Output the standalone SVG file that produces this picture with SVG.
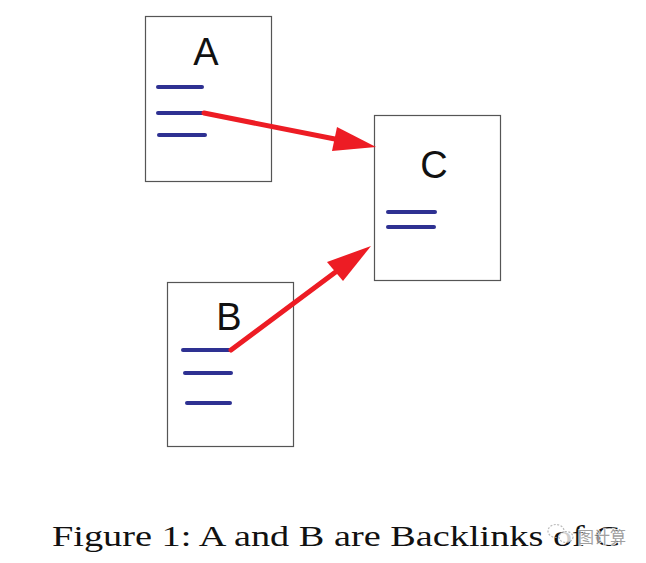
<svg xmlns="http://www.w3.org/2000/svg" width="646" height="563" viewBox="0 0 646 563">
<style>
.box{fill:#fff;stroke:#555;stroke-width:1.2}
.lbl{font-family:"Liberation Sans",Arial,sans-serif;font-size:38px;fill:#111;text-anchor:middle}
.ln{stroke:#2E3192;stroke-width:4;stroke-linecap:round}
.arr{stroke:#ED1C24;stroke-width:5;stroke-linecap:round;fill:none}
.head{fill:#ED1C24}
.cap{font-family:"Liberation Serif","Times New Roman",serif;font-size:29px;fill:#111}
.wm{font-family:"Noto Sans CJK SC",sans-serif;font-size:16px;fill:#888;stroke:#fff;stroke-width:2;paint-order:stroke}
</style>
<rect width="646" height="563" fill="#fff"/>
<g id="A">
<rect class="box" x="145.5" y="16.5" width="126" height="165"/>
<text class="lbl" x="206" y="65">A</text>
<line class="ln" x1="158" y1="87" x2="202" y2="87"/>
<line class="ln" x1="158" y1="113" x2="204" y2="113"/>
<line class="ln" x1="159" y1="135" x2="205" y2="135"/>
</g>
<g id="C">
<rect class="box" x="374.5" y="115.5" width="126" height="165"/>
<text class="lbl" x="434" y="178">C</text>
<line class="ln" x1="388" y1="212" x2="435" y2="212"/>
<line class="ln" x1="388" y1="227" x2="434" y2="227"/>
</g>
<g id="B">
<rect class="box" x="167.5" y="282.5" width="126" height="164"/>
<text class="lbl" x="229" y="330">B</text>
<line class="ln" x1="183" y1="350" x2="230" y2="350"/>
<line class="ln" x1="185" y1="373" x2="231" y2="373"/>
<line class="ln" x1="187" y1="403" x2="230" y2="403"/>
</g>
<g id="connectors">
<line class="arr" x1="204" y1="113" x2="345" y2="141"/>
<polygon class="head" points="376,147 337,127 332,151"/>
<line class="arr" x1="231" y1="350" x2="345" y2="265"/>
<polygon class="head" points="371,246 327,262 343,281"/>
</g>
<text class="cap" x="52" y="546" textLength="568" lengthAdjust="spacingAndGlyphs">Figure 1: A and B are Backlinks of C</text>
<g id="watermark" opacity="0.8">
<ellipse cx="556" cy="531" rx="8" ry="6.5" fill="none" stroke="#aaa" stroke-width="1.2" stroke-dasharray="2 1.5"/>
<ellipse cx="566" cy="537" rx="7" ry="5.5" fill="#fff" stroke="#aaa" stroke-width="1.2" stroke-dasharray="2 1.5"/>
<text class="wm" x="578" y="543">图计算</text>
</g>
</svg>
